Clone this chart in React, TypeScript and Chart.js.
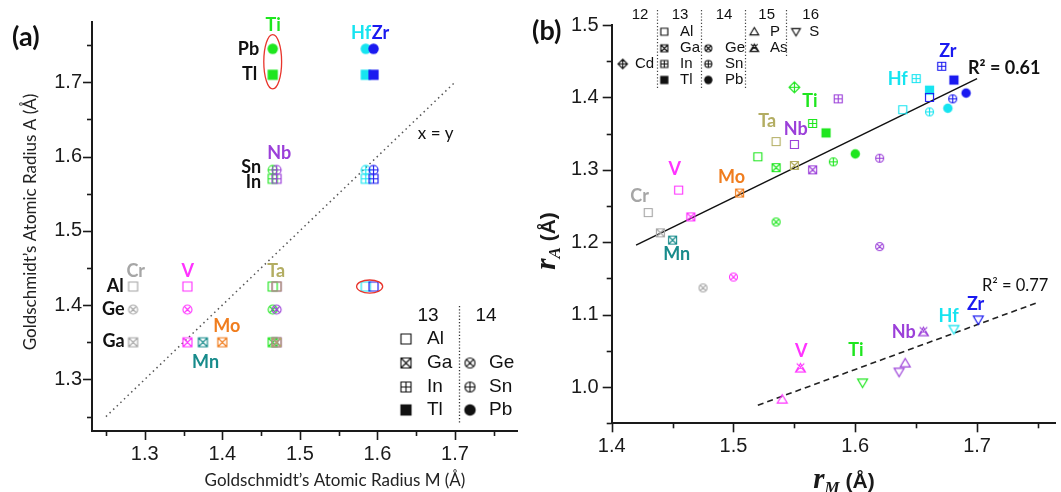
import React, { useEffect, useRef } from "react";
import { Chart, registerables } from "chart.js";
Chart.register(...registerables);

const SANS = "'Liberation Sans', Arial, sans-serif";
const CAL = "Lato, 'Open Sans', sans-serif";
const SERIF = "'Liberation Serif', 'Times New Roman', serif";
const INK = "#1a1a1a";

const COLORS: Record<string, string> = {
  Cr: "#a6a6a6", V: "#ff33ff", Mn: "#178b8b", Mo: "#f07d1e", Ti: "#1ee61e",
  Nb: "#9b3fd9", Ta: "#b3ad62", Hf: "#16e4f0", Zr: "#1a1af0",
};
const SHAPES: Record<string, string> = {
  Al: "sq", Ga: "sqx", In: "sqp", Tl: "sqf", Ge: "cx", Sn: "cp", Pb: "cf",
  Cd: "dp", P: "tu", As: "tux", S: "td",
};

// ---------------- Panel (a): Goldschmidt radii ----------------
const aMNames = ["Cr", "V", "Mn", "Mo", "Ti", "Nb", "Ta", "Hf", "Zr"];
const aMRadius = [1.285, 1.355, 1.375, 1.4, 1.465, 1.47, 1.47, 1.585, 1.595];
const aANames = ["Al", "Ga", "In", "Tl", "Ge", "Sn", "Pb"];
const aARadius = [1.425, 1.35, 1.57, 1.71, 1.394, 1.582, 1.745];
const aCr = ["Al", "Ge", "Ga"];
const aV = ["Al", "Ge", "Ga"];
const aMn = ["Ga"];
const aMo = ["Ga"];
const aTi = ["Al", "Ge", "Ga", "In", "Sn", "Tl", "Pb"];
const aNb = ["Al", "Ga", "Ge", "In", "Sn"];
const aTa = ["Al", "Ga"];
const aHf = ["Al", "In", "Sn", "Tl", "Pb"];
const aZr = ["Al", "In", "Sn", "Tl", "Pb"];
const aPhases = [aCr, aV, aMn, aMo, aTi, aNb, aTa, aHf, aZr];

const aIdentityX = [1.25, 1.7];
const aIdentityY = [1.25, 1.7];

// element labels (a)
const aLabelText = ["Ti", "Hf", "Zr", "Nb", "Cr", "V", "Ta", "Mo", "Mn"];
const aLabelX = [1.4656, 1.579, 1.604, 1.4734, 1.2884, 1.3556, 1.4695, 1.4057, 1.3785];
const aLabelY = [1.777, 1.7665, 1.7665, 1.605, 1.446, 1.446, 1.446, 1.372, 1.323];
// A-site row labels (a)
const aRowText = ["Pb", "Tl", "Sn", "In", "Al", "Ge", "Ga"];
const aRowX = [1.4475, 1.4449, 1.45, 1.45, 1.2728, 1.274, 1.274];
const aRowY = [1.745, 1.7105, 1.585, 1.565, 1.425, 1.394, 1.351];

// ---------------- Panel (b) ----------------
const bMNames = ["Cr", "V", "Mn", "Mo", "Ti", "Nb", "Ta", "Hf", "Zr"];
const bCrA = ["Al", "Ga", "Ge"];
const bCrRM = [1.43, 1.44, 1.475];
const bCrRA = [1.241, 1.213, 1.137];
const bVA = ["Al", "Ga", "Ge", "P", "As"];
const bVRM = [1.455, 1.465, 1.5, 1.54, 1.555];
const bVRA = [1.272, 1.235, 1.152, 0.983, 1.026];
const bMnA = ["Ga"];
const bMnRM = [1.45];
const bMnRA = [1.203];
const bMoA = ["Ga"];
const bMoRM = [1.505];
const bMoRA = [1.268];
const bTiA = ["Cd", "Al", "Ga", "Ge", "In", "Tl", "Sn", "Pb", "S"];
const bTiRM = [1.55, 1.52, 1.535, 1.535, 1.565, 1.576, 1.582, 1.6, 1.606];
const bTiRA = [1.414, 1.318, 1.303, 1.228, 1.364, 1.351, 1.311, 1.322, 1.006];
const bNbA = ["Al", "Ga", "In", "Ge", "Sn", "P", "As", "S"];
const bNbRM = [1.55, 1.565, 1.586, 1.62, 1.62, 1.641, 1.656, 1.636];
const bNbRA = [1.335, 1.3, 1.398, 1.194, 1.316, 1.033, 1.076, 1.021];
const bTaA = ["Al", "Ga"];
const bTaRM = [1.535, 1.55];
const bTaRA = [1.339, 1.306];
const bHfA = ["Al", "In", "Tl", "Sn", "Pb", "S"];
const bHfRM = [1.639, 1.65, 1.661, 1.661, 1.676, 1.681];
const bHfRA = [1.383, 1.426, 1.41, 1.38, 1.385, 1.08];
const bZrA = ["Al", "In", "Tl", "Sn", "Pb", "S"];
const bZrRM = [1.661, 1.671, 1.681, 1.68, 1.691, 1.701];
const bZrRA = [1.4, 1.443, 1.424, 1.398, 1.406, 1.093];
const bSets = [
  [bCrA, bCrRM, bCrRA], [bVA, bVRM, bVRA], [bMnA, bMnRM, bMnRA], [bMoA, bMoRM, bMoRA],
  [bTiA, bTiRM, bTiRA], [bNbA, bNbRM, bNbRA], [bTaA, bTaRM, bTaRA],
  [bHfA, bHfRM, bHfRA], [bZrA, bZrRM, bZrRA],
] as [string[], number[], number[]][];

// linear fits (b)
const fitMX = [1.42, 1.7];
const fitMY = [1.196, 1.426];
const fitXX = [1.52, 1.75];
const fitXY = [0.975, 1.117];

// element labels (b)
const bLabelText = ["Zr", "Hf", "Ti", "Ta", "Nb", "V", "Mo", "Cr", "Mn", "V", "Ti", "Nb", "Hf", "Zr"];
const bLabelX = [1.676, 1.6348, 1.5628, 1.5276, 1.5511, 1.4518, 1.4985, 1.4229, 1.4534, 1.5557, 1.6005, 1.6397, 1.6766, 1.6988];
const bLabelY = [1.4637, 1.425, 1.3954, 1.3672, 1.3567, 1.3011, 1.2898, 1.2634, 1.1842, 1.0493, 1.0516, 1.0757, 1.0985, 1.1145];

// ---------------- marker images ----------------
const cache = new Map<string, HTMLCanvasElement>();
function marker(shape: string, color: string, size: number): HTMLCanvasElement {
  const key = shape + "|" + color + "|" + size;
  const hit = cache.get(key);
  if (hit) return hit;
  const dim = (Math.ceil(size * 1.7) + 4) | 1;
  const c = document.createElement("canvas");
  c.width = dim;
  c.height = dim;
  const g = c.getContext("2d")!;
  const m = dim / 2;
  const h = size / 2;
  g.strokeStyle = color;
  g.fillStyle = color;
  g.lineWidth = 1.15;
  g.lineJoin = "miter";
  g.beginPath();
  const rect = () => g.rect(m - h, m - h, size, size);
  switch (shape) {
    case "sq":
      rect();
      g.stroke();
      break;
    case "sqf":
      g.fillRect(m - h - 0.6, m - h - 0.6, size + 1.2, size + 1.2);
      break;
    case "sqx":
      rect();
      g.moveTo(m - h, m - h); g.lineTo(m + h, m + h);
      g.moveTo(m + h, m - h); g.lineTo(m - h, m + h);
      g.stroke();
      break;
    case "sqp":
      rect();
      g.moveTo(m, m - h); g.lineTo(m, m + h);
      g.moveTo(m - h, m); g.lineTo(m + h, m);
      g.stroke();
      break;
    case "cf":
      g.arc(m, m, h + 0.7, 0, Math.PI * 2);
      g.fill();
      break;
    case "cx": {
      g.arc(m, m, h, 0, Math.PI * 2);
      const d = h * 0.72;
      g.moveTo(m - d, m - d); g.lineTo(m + d, m + d);
      g.moveTo(m + d, m - d); g.lineTo(m - d, m + d);
      g.stroke();
      break;
    }
    case "cp":
      g.arc(m, m, h, 0, Math.PI * 2);
      g.moveTo(m, m - h); g.lineTo(m, m + h);
      g.moveTo(m - h, m); g.lineTo(m + h, m);
      g.stroke();
      break;
    case "dp": {
      const r = h * 1.35;
      g.moveTo(m, m - r); g.lineTo(m + r, m); g.lineTo(m, m + r); g.lineTo(m - r, m); g.closePath();
      g.moveTo(m, m - r); g.lineTo(m, m + r);
      g.moveTo(m - r, m); g.lineTo(m + r, m);
      g.stroke();
      break;
    }
    case "tu":
      g.moveTo(m, m - h * 1.2); g.lineTo(m + h * 1.25, m + h * 0.9); g.lineTo(m - h * 1.25, m + h * 0.9); g.closePath();
      g.stroke();
      break;
    case "td":
      g.moveTo(m, m + h * 1.2); g.lineTo(m + h * 1.25, m - h * 0.9); g.lineTo(m - h * 1.25, m - h * 0.9); g.closePath();
      g.stroke();
      break;
    case "tux":
      g.moveTo(m, m - h * 1.2); g.lineTo(m + h * 1.25, m + h * 0.9); g.lineTo(m - h * 1.25, m + h * 0.9); g.closePath();
      g.moveTo(m - h * 1.25, m + h * 0.9); g.lineTo(m + h * 0.95, m - h * 1.2);
      g.moveTo(m + h * 1.25, m + h * 0.9); g.lineTo(m - h * 0.95, m - h * 1.2);
      g.stroke();
      break;
  }
  cache.set(key, c);
  return c;
}

// ---------------- helpers ----------------
const isMajor = (v: number) => Math.abs(v * 10 - Math.round(v * 10)) < 1e-6;

function scaleOpts(min: number, max: number, axis: "x" | "y", size: number, pad: number): any {
  return {
    type: "linear",
    position: axis === "x" ? "bottom" : "left",
    min,
    max,
    grid: { display: false, drawOnChartArea: false, drawTicks: false },
    border: { display: true, color: INK, width: 2 },
    ticks: {
      stepSize: 0.05,
      includeBounds: false,
      autoSkip: false,
      maxRotation: 0,
      minRotation: 0,
      padding: pad,
      color: INK,
      font: { family: SANS, size: 20 },
      callback: (v: any) => (isMajor(Number(v)) ? Number(v).toFixed(1) : ""),
    },
    afterFit: (s: any) => {
      if (axis === "x") s.height = size;
      else s.width = size;
    },
  };
}

function drawTicks(chart: any) {
  const ctx = chart.ctx;
  const { x, y } = chart.scales;
  const a = chart.chartArea;
  ctx.save();
  ctx.strokeStyle = INK;
  ctx.lineWidth = 1.6;
  for (const t of x.ticks) {
    const px = Math.round(x.getPixelForValue(t.value)) + 0.5;
    const L = isMajor(t.value) ? 9 : 5;
    ctx.beginPath();
    ctx.moveTo(px, a.bottom);
    ctx.lineTo(px, a.bottom + L);
    ctx.stroke();
  }
  for (const t of y.ticks) {
    const py = Math.round(y.getPixelForValue(t.value)) + 0.5;
    const L = isMajor(t.value) ? 9 : 5;
    ctx.beginPath();
    ctx.moveTo(a.left, py);
    ctx.lineTo(a.left - L, py);
    ctx.stroke();
  }
  ctx.restore();
}

function text(ctx: CanvasRenderingContext2D, s: string, x: number, y: number, font: string, color: string, align: CanvasTextAlign = "center", base: CanvasTextBaseline = "middle") {
  ctx.font = font;
  ctx.fillStyle = color;
  ctx.textAlign = align;
  ctx.textBaseline = base;
  ctx.fillText(s, x, y);
}

type Seg = { t: string; font: string; dy?: number };
function rich(ctx: CanvasRenderingContext2D, segs: Seg[], x: number, y: number, rotate: boolean) {
  ctx.save();
  ctx.translate(x, y);
  if (rotate) ctx.rotate(-Math.PI / 2);
  ctx.textBaseline = "alphabetic";
  ctx.textAlign = "left";
  ctx.fillStyle = INK;
  let total = 0;
  const ws = segs.map((s) => {
    ctx.font = s.font;
    const w = ctx.measureText(s.t).width;
    total += w;
    return w;
  });
  let cx = -total / 2;
  segs.forEach((s, i) => {
    ctx.font = s.font;
    ctx.fillText(s.t, cx, s.dy || 0);
    cx += ws[i];
  });
  ctx.restore();
}

function stamp(ctx: CanvasRenderingContext2D, img: HTMLCanvasElement, x: number, y: number) {
  ctx.drawImage(img, x - img.width / 2, y - img.height / 2);
}

// ---------------- chart (a) ----------------
function configA(): any {
  const datasets: any[] = aMNames.map((M, i) => {
    const list = aPhases[i];
    const styles = list.map((A) => marker(SHAPES[A], COLORS[M], 9));
    return {
      label: M,
      data: list.map((A) => ({ x: aMRadius[i], y: aARadius[aANames.indexOf(A)] })),
      pointStyle: (c: any) => styles[c.dataIndex ?? 0],
      pointRadius: 5,
      showLine: false,
      order: 100 - i,
    };
  });
  datasets.push({
    label: "x = y",
    data: aIdentityX.map((x, i) => ({ x, y: aIdentityY[i] })),
    showLine: true,
    pointRadius: 0,
    borderColor: "#555",
    borderWidth: 1.5,
    borderDash: [1.5, 3.5],
    order: 200,
  });
  const deco = {
    id: "decoA",
    afterDraw(chart: any) {
      const ctx: CanvasRenderingContext2D = chart.ctx;
      const xs = chart.scales.x;
      const ys = chart.scales.y;
      const X = (v: number) => xs.getPixelForValue(v);
      const Y = (v: number) => ys.getPixelForValue(v);
      drawTicks(chart);
      ctx.save();
      // red ellipses
      ctx.strokeStyle = "#e8352c";
      ctx.lineWidth = 1.3;
      const ell = (cx: number, cy: number, rx: number, ry: number) => {
        const px = X(cx), py = Y(cy);
        ctx.beginPath();
        ctx.ellipse(px, py, Math.abs(X(cx + rx) - px), Math.abs(Y(cy + ry) - py), 0, 0, Math.PI * 2);
        ctx.stroke();
      };
      ell(1.465, 1.7275, 0.0115, 0.0365);
      ell(1.59, 1.425, 0.0168, 0.0088);
      // labels
      aLabelText.forEach((t, i) => text(ctx, t, X(aLabelX[i]), Y(aLabelY[i]), `bold 18px ${CAL}`, COLORS[t]));
      aRowText.forEach((t, i) => text(ctx, t, X(aRowX[i]), Y(aRowY[i]), `bold 18px ${CAL}`, "#111", "right"));
      text(ctx, "x = y", X(1.6752), Y(1.6313), `17px ${CAL}`, "#111");
      // legend
      const rows = [339, 363, 387, 410];
      text(ctx, "13", 428, 316, `19px ${SANS}`, "#111");
      text(ctx, "14", 486, 316, `19px ${SANS}`, "#111");
      ["Al", "Ga", "In", "Tl"].forEach((A, r) => {
        stamp(ctx, marker(SHAPES[A], "#111", 10), 406, rows[r]);
        text(ctx, A, 427, rows[r], `19px ${SANS}`, "#111", "left");
      });
      ["Ge", "Sn", "Pb"].forEach((A, r) => {
        stamp(ctx, marker(SHAPES[A], "#111", 10), 470, rows[r + 1]);
        text(ctx, A, 489, rows[r + 1], `19px ${SANS}`, "#111", "left");
      });
      ctx.strokeStyle = "#333";
      ctx.lineWidth = 1.3;
      ctx.setLineDash([1.2, 2]);
      ctx.beginPath();
      ctx.moveTo(459.5, 306);
      ctx.lineTo(459.5, 423);
      ctx.stroke();
      ctx.setLineDash([]);
      // titles
      text(ctx, "Goldschmidt\u2019s Atomic Radius M (\u00c5)", 335, 481, `17px ${CAL}`, "#222");
      ctx.save();
      ctx.translate(31, 222);
      ctx.rotate(-Math.PI / 2);
      text(ctx, "Goldschmidt\u2019s Atomic Radius A (\u00c5)", 0, 0, `17px ${CAL}`, "#222");
      ctx.restore();
      text(ctx, "(a)", 12, 37, `bold 27px ${CAL}`, "#111", "left");
      ctx.restore();
    },
  };
  return {
    type: "scatter",
    data: { datasets },
    options: {
      responsive: false,
      maintainAspectRatio: false,
      animation: false,
      events: [],
      layout: { padding: { left: 0, right: 13, top: 15, bottom: 0 } },
      plugins: { legend: { display: false }, tooltip: { enabled: false } },
      scales: {
        x: scaleOpts(1.232, 1.78, "x", 61, 11),
        y: scaleOpts(1.2306, 1.781, "y", 92, 10),
      },
    },
    plugins: [deco],
  };
}

// ---------------- chart (b) ----------------
function configB(): any {
  const datasets: any[] = bMNames.map((M, i) => {
    const [As, rM, rA] = bSets[i];
    const styles = As.map((A) => marker(SHAPES[A], COLORS[M], 8));
    return {
      label: M,
      data: As.map((_, k) => ({ x: rM[k], y: rA[k] })),
      pointStyle: (c: any) => styles[c.dataIndex ?? 0],
      pointRadius: 5,
      showLine: false,
      order: 100 - i,
    };
  });
  datasets.push({
    label: "fit M",
    data: fitMX.map((x, i) => ({ x, y: fitMY[i] })),
    showLine: true,
    pointRadius: 0,
    borderColor: "#111",
    borderWidth: 1.5,
    order: 200,
  });
  datasets.push({
    label: "fit X",
    data: fitXX.map((x, i) => ({ x, y: fitXY[i] })),
    showLine: true,
    pointRadius: 0,
    borderColor: "#222",
    borderWidth: 1.6,
    borderDash: [6, 4],
    order: 201,
  });
  const deco = {
    id: "decoB",
    afterDraw(chart: any) {
      const ctx: CanvasRenderingContext2D = chart.ctx;
      const xs = chart.scales.x;
      const ys = chart.scales.y;
      const X = (v: number) => xs.getPixelForValue(v);
      const Y = (v: number) => ys.getPixelForValue(v);
      drawTicks(chart);
      ctx.save();
      bLabelText.forEach((t, i) => text(ctx, t, X(bLabelX[i]), Y(bLabelY[i]), `bold 18px ${CAL}`, COLORS[t]));
      text(ctx, "R\u00b2 = 0.61", X(1.6926), Y(1.44), `bold 18px ${CAL}`, "#111", "left");
      text(ctx, "R\u00b2 = 0.77", X(1.704), Y(1.1395), `16.5px ${CAL}`, "#111", "left");
      // legend
      const rows = [31.7, 48.3, 64, 80];
      const hf = `15px ${SANS}`;
      const lf = `15px ${SANS}`;
      text(ctx, "12", 110, 15, hf, "#111");
      text(ctx, "13", 150, 15, hf, "#111");
      text(ctx, "14", 194, 15, hf, "#111");
      text(ctx, "15", 236.7, 15, hf, "#111");
      text(ctx, "16", 280.7, 15, hf, "#111");
      const item = (A: string, mx: number, tx: number, r: number) => {
        stamp(ctx, marker(SHAPES[A], "#111", 7), mx, rows[r]);
        text(ctx, A, tx, rows[r], lf, "#111", "left");
      };
      item("Cd", 92.7, 105, 2);
      item("Al", 134.3, 150, 0);
      item("Ga", 134.3, 150, 1);
      item("In", 134.3, 150, 2);
      item("Tl", 134.3, 150, 3);
      item("Ge", 178.3, 195, 1);
      item("Sn", 178.3, 195, 2);
      item("Pb", 178.3, 195, 3);
      item("P", 224.3, 240, 0);
      item("As", 224.3, 240, 1);
      item("S", 266, 279.3, 0);
      ctx.strokeStyle = "#444";
      ctx.lineWidth = 1.2;
      ctx.setLineDash([1.2, 2]);
      const vline = (x: number, y0: number, y1: number) => {
        ctx.beginPath();
        ctx.moveTo(x, y0);
        ctx.lineTo(x, y1);
        ctx.stroke();
      };
      vline(127.5, 10, 90);
      vline(171.5, 10, 90);
      vline(215.5, 10, 88);
      vline(256.5, 10, 58);
      ctx.setLineDash([]);
      // axis titles
      const rI = `italic bold 29px ${SERIF}`;
      const sI = `italic bold 17px ${SERIF}`;
      const aB = `bold 21px ${SANS}`;
      rich(ctx, [{ t: "r", font: rI }, { t: "M", font: sI, dy: 5 }, { t: " (\u00c5)", font: aB }], 314, 488, false);
      rich(ctx, [{ t: "r", font: rI }, { t: "A", font: sI, dy: 5 }, { t: " (\u00c5)", font: aB }], 25, 241, true);
      text(ctx, "(b)", 2, 31, `bold 27px ${CAL}`, "#111", "left");
      ctx.restore();
    },
  };
  return {
    type: "scatter",
    data: { datasets },
    options: {
      responsive: false,
      maintainAspectRatio: false,
      animation: false,
      events: [],
      layout: { padding: { left: 0, right: 0, top: 21.7, bottom: 0 } },
      plugins: { legend: { display: false }, tooltip: { enabled: false } },
      scales: {
        x: scaleOpts(1.4, 1.764, "x", 68.7, 11),
        y: scaleOpts(0.95, 1.5, "y", 81.7, 13),
      },
    },
    plugins: [deco],
  };
}

export default function App() {
  const refA = useRef<HTMLCanvasElement>(null);
  const refB = useRef<HTMLCanvasElement>(null);
  useEffect(() => {
    const ca = new Chart(refA.current!, configA());
    const cb = new Chart(refB.current!, configB());
    return () => {
      ca.destroy();
      cb.destroy();
    };
  }, []);
  return (
    <div style={{ position: "fixed", left: 0, top: 0, width: 1061, height: 492, background: "#fff", overflow: "hidden" }}>
      <canvas ref={refA} width={530} height={492} style={{ position: "absolute", left: 0, top: 0, width: 530, height: 492 }} />
      <canvas ref={refB} width={531} height={492} style={{ position: "absolute", left: 530, top: 0, width: 531, height: 492 }} />
    </div>
  );
}
